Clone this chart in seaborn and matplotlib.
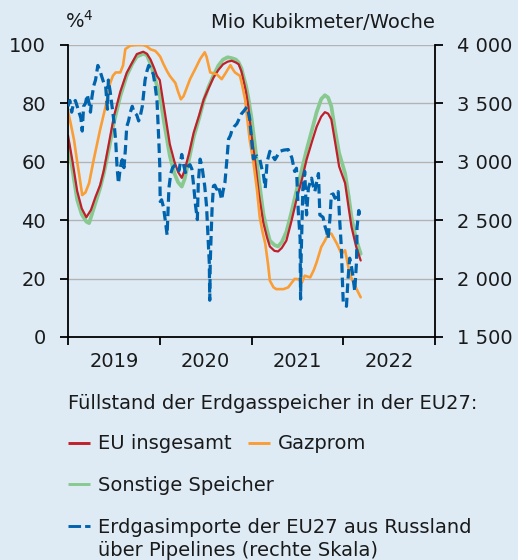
import seaborn as sns
import pandas as pd
import matplotlib
matplotlib.use('Agg')
from matplotlib import pyplot as plt
from matplotlib.lines import Line2D

# Jahre seit 1.1.2019, Füllstand in %
eu_t = [0.00, 0.05, 0.10, 0.15, 0.20, 0.23, 0.25, 0.30, 0.35, 0.39,
        0.45, 0.50, 0.57, 0.64, 0.70, 0.75, 0.82, 0.86, 0.90, 0.94,
        0.97, 1.00, 1.05, 1.11, 1.16, 1.20, 1.24, 1.27, 1.32, 1.37,
        1.43, 1.48, 1.53, 1.585, 1.64, 1.69, 1.74, 1.785, 1.83, 1.86,
        1.89, 1.91, 1.94, 1.965, 2.00, 2.04, 2.08, 2.13, 2.17, 2.20,
        2.25, 2.29, 2.33, 2.38, 2.43, 2.49, 2.55, 2.60, 2.66, 2.71,
        2.76, 2.80, 2.835, 2.87, 2.91, 2.955, 3.02, 3.06, 3.09, 3.14,
        3.19]
eu_val = [69, 60, 50, 44, 41, 42.5, 43.5, 48, 52, 57,
          67, 75.5, 84, 90.5, 94, 96.9, 97.7, 97, 95, 92,
          89.4, 88, 78, 66, 60, 56.5, 54.5, 57, 63, 70,
          76, 81.4, 85, 88.8, 91.5, 93.4, 94.3, 94.6, 94, 93.4,
          91, 88.3, 84, 79, 69, 60, 49, 39, 34, 31,
          29.5, 29.3, 30.5, 33, 39, 47, 54, 60.7, 67, 72,
          75.5, 77, 76.5, 74.5, 67, 58.4, 52.7, 44, 37.7, 31,
          26.2]

sonst_val = [67, 57, 47, 42, 39.5, 39, 41, 46, 51, 56,
             65, 73.5, 82.5, 89.5, 93.5, 96, 97, 96.5, 93.5, 89.5,
             86, 83, 73, 62, 56, 53, 51.5, 54, 61, 68.5,
             75, 81, 85.5, 89.5, 93, 95, 95.8, 95.5, 95, 94,
             92, 89.5, 86, 82, 75, 65, 54, 42, 36.5, 33,
             31.5, 31, 32.5, 36, 42, 50, 57.5, 64, 71, 77,
             81.5, 82.8, 82, 79, 71, 63, 56, 48, 41, 33.5,
             28.5]

gaz_t = [0.00, 0.03, 0.065, 0.10, 0.12, 0.155, 0.19, 0.23, 0.28, 0.35,
         0.41, 0.46, 0.49, 0.52, 0.57, 0.60, 0.625, 0.68, 0.75, 0.82,
         0.86, 0.90, 0.95, 0.98, 1.005, 1.04, 1.08, 1.11, 1.17, 1.20,
         1.23, 1.26, 1.33, 1.39, 1.44, 1.49, 1.51, 1.55, 1.62, 1.675,
         1.72, 1.77, 1.80, 1.82, 1.875, 1.90, 1.93, 1.98, 2.02, 2.06,
         2.09, 2.12, 2.15, 2.18, 2.20, 2.24, 2.27, 2.35, 2.40, 2.47,
         2.51, 2.55, 2.58, 2.64, 2.68, 2.71, 2.76, 2.80, 2.835, 2.87,
         2.93, 2.98, 3.02, 3.07, 3.12, 3.19]
gaz_val = [77.3, 73, 67.6, 60, 56, 48.6, 49.5, 52.7, 60.7, 71,
           79, 87, 89.5, 90.6, 90.6, 93, 98.6, 99.8, 100, 100,
           99.5, 98.5, 98, 97, 96, 93.5, 91, 89.4, 87, 84,
           81.4, 82.5, 88.3, 92, 95.2, 97.5, 96, 90.6, 90, 88.3,
           90.5, 93.1, 91.5, 90.6, 89.4, 86, 81.4, 67.6, 60, 50.3,
           41, 36, 32, 25, 19.3, 17, 16.4, 16.4, 17, 19.9,
           19.8, 18.7, 21, 20.4, 23, 25.6, 30.8, 33, 35.2, 35.4,
           32, 28.5, 29.7, 21.6, 18, 13.6]

# Importe aus Russland, Mio Kubikmeter/Woche
imp_t = [0.00, 0.02, 0.04, 0.06, 0.08, 0.10, 0.12, 0.14, 0.155, 0.17,
         0.19, 0.21, 0.23, 0.245, 0.26, 0.28, 0.30, 0.325, 0.35, 0.37,
         0.39, 0.41, 0.43, 0.44, 0.46, 0.48, 0.50, 0.52, 0.535, 0.55,
         0.57, 0.59, 0.61, 0.625, 0.64, 0.66, 0.68, 0.70, 0.72, 0.75,
         0.77, 0.79, 0.81, 0.84, 0.86, 0.88, 0.90, 0.93, 0.95, 0.97,
         0.99, 1.00, 1.005, 1.02, 1.04, 1.06, 1.08, 1.10, 1.12, 1.14,
         1.17, 1.19, 1.21, 1.24, 1.26, 1.28, 1.31, 1.33, 1.35, 1.37,
         1.39, 1.41, 1.42, 1.44, 1.46, 1.475, 1.49, 1.51, 1.53, 1.54,
         1.545, 1.55, 1.56, 1.57, 1.585, 1.60, 1.62, 1.64, 1.66, 1.675,
         1.69, 1.71, 1.73, 1.75, 1.77, 1.785, 1.81, 1.84, 1.87, 1.89,
         1.92, 1.95, 1.965, 1.98, 2.00, 2.02, 2.04, 2.06, 2.09, 2.11,
         2.13, 2.15, 2.17, 2.20, 2.23, 2.255, 2.28, 2.31, 2.35, 2.40,
         2.42, 2.44, 2.47, 2.49, 2.51, 2.53, 2.532, 2.535, 2.54, 2.56,
         2.58, 2.60, 2.62, 2.655, 2.67, 2.69, 2.71, 2.73, 2.745, 2.78,
         2.80, 2.82, 2.835, 2.855, 2.87, 2.89, 2.91, 2.93, 2.945, 2.96,
         2.98, 2.99, 3.00, 3.02, 3.035, 3.05, 3.07, 3.09, 3.105, 3.125,
         3.145, 3.15, 3.17, 3.18]
imp_val = [3475, 3525, 3425, 3500, 3525, 3475, 3425, 3375, 3263, 3475,
           3500, 3575, 3500, 3425, 3550, 3650, 3700, 3825, 3775, 3725,
           3675, 3650, 3450, 3700, 3600, 3475, 3350, 3175, 2950, 2815,
           2950, 3018, 2950, 3100, 3300, 3350, 3425, 3475, 3425, 3400,
           3350, 3400, 3475, 3700, 3775, 3825, 3800, 3750, 3650, 3525,
           3175, 2975, 2660, 2675, 2615, 2500, 2373, 2775, 2900, 2950,
           2975, 2965, 2925, 3063, 2975, 2908, 2965, 2975, 2938, 2793,
           2625, 2505, 2820, 3023, 2965, 2875, 2793, 2620, 2305, 2133,
           1815, 2125, 2375, 2593, 2793, 2800, 2765, 2793, 2725, 2675,
           2750, 2820, 3000, 3195, 3225, 3265, 3300, 3325, 3375, 3410,
           3438, 3470, 3425, 3368, 3200, 3025, 3038, 3050, 3025, 2950,
           2890, 2775, 3000, 3090, 3050, 3018, 3050, 3090, 3100, 3105,
           3075, 3033, 2918, 2945, 2573, 2343, 2055, 1825, 2150, 2775,
           2918, 2545, 2775, 2860, 2800, 2745, 2825, 2900, 2545, 2525,
           2450, 2400, 2343, 2515, 2718, 2725, 2688, 2700, 2745, 2515,
           2258, 2000, 1798, 1775, 1763, 1975, 2175, 2100, 2025, 1893,
           2150, 2438, 2583, 2525]

jahre = [2019, 2020, 2021, 2022]
links_ticks = [0, 20, 40, 60, 80, 100]
rechts_ticks = [1500, 2000, 2500, 3000, 3500, 4000]

bg = '#deebf5'
rot = '#c0202a'
orange = '#fb9d35'
gruen = '#88c98f'
blau = '#0063ad'
schrift = '#1a1a1a'

sns.set_style('ticks')
plt.rcParams['font.family'] = ['DejaVu Sans']
plt.rcParams['font.size'] = 14
plt.rcParams['text.color'] = schrift
plt.rcParams['xtick.color'] = 'black'
plt.rcParams['ytick.color'] = 'black'
plt.rcParams['xtick.labelcolor'] = schrift
plt.rcParams['ytick.labelcolor'] = schrift

eu = pd.DataFrame({'x': [2019 + t for t in eu_t], 'eu': eu_val, 'sonst': sonst_val})
gaz = pd.DataFrame({'x': [2019 + t for t in gaz_t], 'y': gaz_val})
imp = pd.DataFrame({'x': [2019 + t for t in imp_t], 'y': imp_val})

fig = plt.figure(figsize=(5.18, 5.6), dpi=100, facecolor=bg)
ax = fig.add_axes([68 / 518, 1 - 337 / 560, 367 / 518, 292 / 560])
ax.set_facecolor(bg)

for v in links_ticks[1:]:
    ax.axhline(v, color='#b3b3b3', lw=1, zorder=0)

sns.lineplot(data=eu, x='x', y='sonst', ax=ax, color=gruen, lw=2.7, estimator=None)
sns.lineplot(data=eu, x='x', y='eu', ax=ax, color=rot, lw=1.6, estimator=None)
sns.lineplot(data=gaz, x='x', y='y', ax=ax, color=orange, lw=1.9, estimator=None)

ax.set_xlim(2019, 2023)
ax.set_ylim(0, 100)
ax.set_yticks(links_ticks)
ax.set_xticks(jahre + [2023])
ax.set_xticklabels([])
ax.set_xticks([j + 0.5 for j in jahre], minor=True)
ax.set_xticklabels([str(j) for j in jahre], minor=True)
ax.tick_params(axis='x', which='major', length=6, width=1.3, direction='out')
ax.tick_params(axis='x', which='minor', length=0, pad=11, labelsize=14)
ax.tick_params(axis='y', length=6, width=1.3, direction='out', pad=10, labelsize=14)
ax.set_xlabel('')
ax.set_ylabel('')
for s in ['top', 'right']:
    ax.spines[s].set_visible(False)
for s in ['left', 'bottom']:
    ax.spines[s].set_color('black')
    ax.spines[s].set_linewidth(1.3)

ax2 = ax.twinx()
sns.lineplot(data=imp, x='x', y='y', ax=ax2, color=blau, lw=2.3, estimator=None)
ax2.lines[0].set_dashes((3, 1.5))
ax2.set_ylim(1500, 4000)
ax2.set_yticks(rechts_ticks)
ax2.set_yticklabels([f'{v:,}'.replace(',', ' ') for v in rechts_ticks])
ax2.tick_params(axis='y', length=6, width=1.3, direction='out', pad=9.5, labelsize=14)
ax2.set_ylabel('')
ax2.set_xlim(2019, 2023)
for s in ['top', 'left', 'bottom']:
    ax2.spines[s].set_visible(False)
ax2.spines['right'].set_color('black')
ax2.spines['right'].set_linewidth(1.3)


def fy(py):
    return 1 - py / 560


fig.text(65 / 518, fy(28), '%$^{4}$', fontsize=14, va='baseline', ha='left')
fig.text(435 / 518, fy(28), 'Mio Kubikmeter/Woche', fontsize=14, va='baseline', ha='right')

fig.text(68 / 518, fy(409), 'Füllstand der Erdgasspeicher in der EU27:', fontsize=14, va='baseline')

eintraege = [
    (68, 443, rot, None, 97.5, 449, 'EU insgesamt'),
    (248, 443, orange, None, 278, 449, 'Gazprom'),
    (68, 484, gruen, None, 97.5, 491, 'Sonstige Speicher'),
    (68, 526, blau, (4.3, 1.4), 97.5, 533, 'Erdgasimporte der EU27 aus Russland'),
]
for x0, ly, c, d, tx, ty, txt in eintraege:
    l = Line2D([x0 / 518, (x0 + 22) / 518], [fy(ly), fy(ly)], transform=fig.transFigure,
               color=c, lw=2.1, solid_capstyle='butt', dash_capstyle='butt')
    if d is not None:
        l.set_dashes(d)
    fig.add_artist(l)
    fig.text(tx / 518, fy(ty), txt, fontsize=14, va='baseline', ha='left')
fig.text(97.5 / 518, fy(556), 'über Pipelines (rechte Skala)', fontsize=14, va='baseline', ha='left')

fig.savefig('out.png', dpi=100, facecolor=bg)
